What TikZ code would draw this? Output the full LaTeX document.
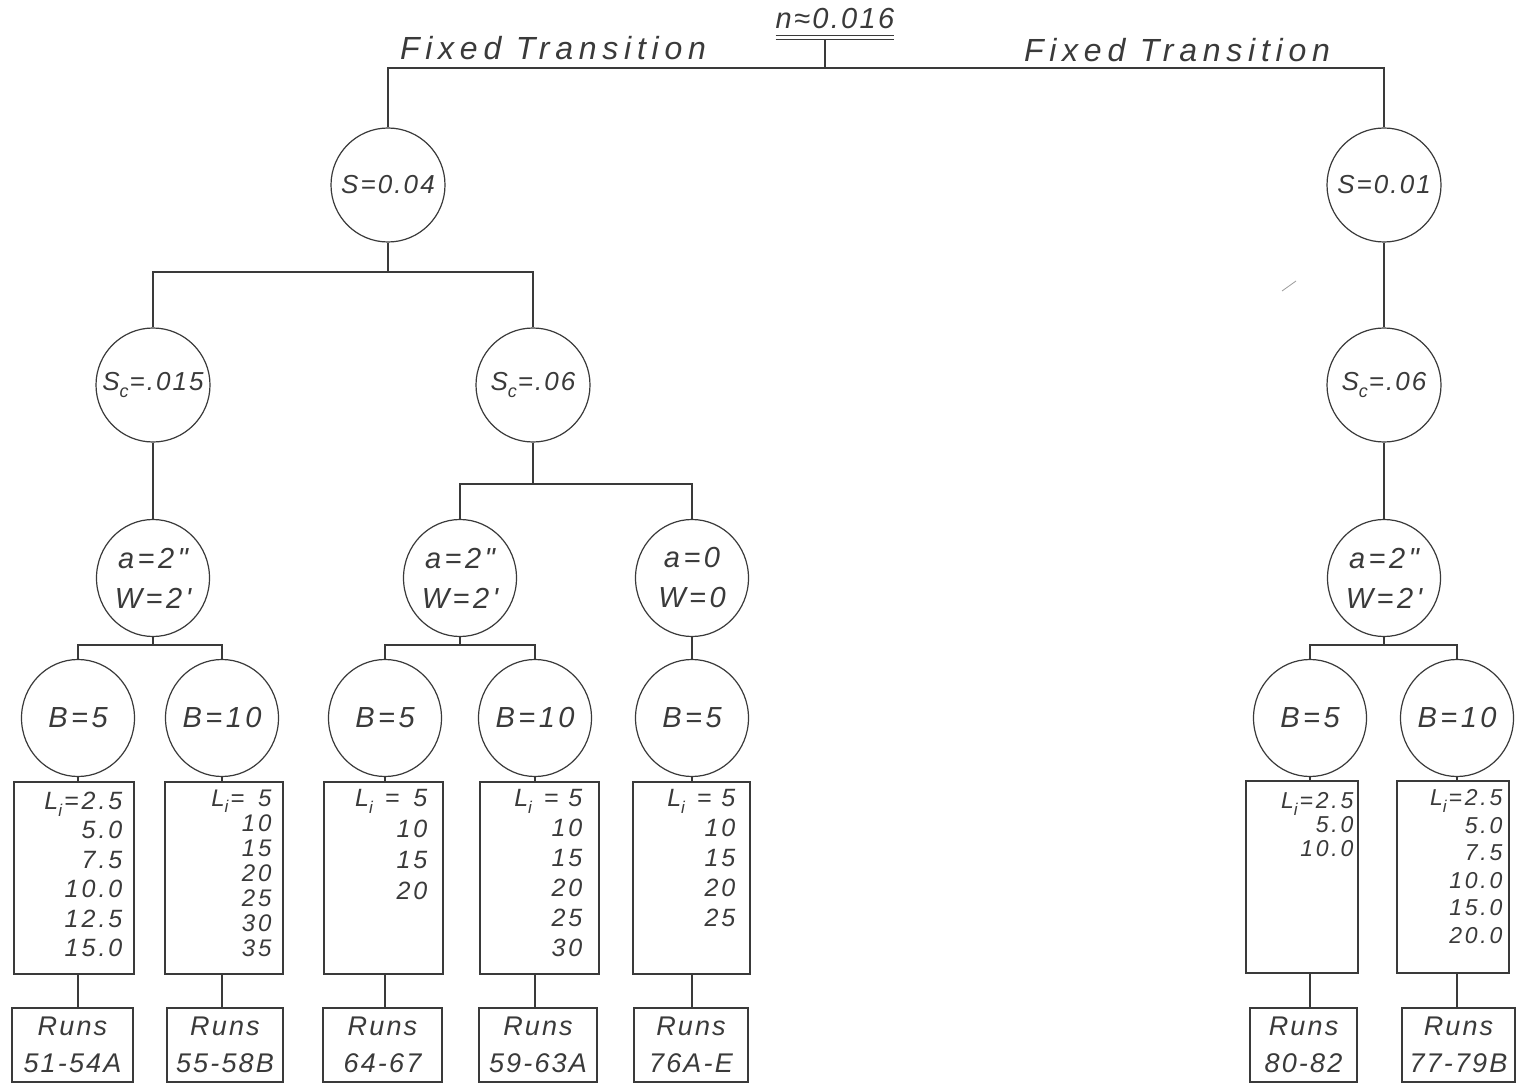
\documentclass[tikz,border=0pt]{standalone}
\usepackage{fontspec}
\setmainfont{Liberation Sans}
\newfontfamily\hand[LetterSpace=8]{Liberation Sans}
\newfontfamily\handwide[LetterSpace=18]{Liberation Sans}
\newfontfamily\handmid[LetterSpace=12]{Liberation Sans}
\usetikzlibrary{shapes.geometric}
\definecolor{ink}{HTML}{3A3A3A}
\newcommand\Sc{S\raisebox{-0.28em}{\fontsize{18}{18}\selectfont c}\kern1pt}
\newcommand\Li{L\raisebox{-0.28em}{\fontsize{17}{17}\selectfont i}\kern2pt}
\tikzset{
  conn/.style={draw=ink, line width=1.2pt},
  circnode/.style={circle, draw=ink, line width=1.2pt, minimum size=114pt, inner sep=0pt,
    text=ink, font=\hand\itshape\fontsize{26}{30}\selectfont, align=center},
  ovalnode/.style={ellipse, draw=ink, line width=1.2pt, minimum width=113pt, minimum height=117pt,
    inner sep=0pt, text=ink, font=\handmid\itshape\fontsize{29}{40}\selectfont, align=center},
  lbox/.style={rectangle, draw=ink, line width=1.2pt, minimum height=192pt, inner sep=0pt},
  ltext/.style={anchor=north east, inner sep=0pt, align=right, text=ink},
  runbox/.style={rectangle, draw=ink, line width=1.2pt, minimum height=74pt, inner sep=0pt,
    text=ink, align=center, font=\hand\itshape\fontsize{27}{37}\selectfont},
  title/.style={text=ink, inner sep=0pt, font=\handwide\itshape\fontsize{32}{34}\selectfont},
}
\begin{document}
\begin{tikzpicture}[x=1pt,y=-1pt]
\fill[white] (0,0) rectangle (1518,1086);
\useasboundingbox (0,0) rectangle (1518,1086);

% top
\node[text=ink, inner sep=0pt, font=\hand\itshape\fontsize{29}{32}\selectfont] (top) at (835,19) {n≈0.016};
\draw[conn] ([yshift=-6pt]top.south west) -- ([yshift=-6pt]top.south east);
\draw[conn] ([yshift=-10pt]top.south west) -- ([yshift=-10pt]top.south east);
\coordinate (j0) at (825,68);
\draw[conn] ([yshift=-10pt]top.south -| j0) -- (j0);
\node[title] (ftl) at (553,48) {Fixed Transition};
\node[title] (ftr) at (1177,50) {Fixed Transition};

% level S
\node[circnode] (s1) at (388,185) {S=0.04};
\node[circnode] (s2) at (1384,185) {S=0.01};
\draw[conn] (s1.north) -- (s1.north |- j0) -- (s2.north |- j0) -- (s2.north);

% level Sc
\node[circnode] (c1) at (153,385) {\Sc=.015};
\node[circnode] (c2) at (533,385) {\Sc=.06};
\node[circnode] (c3) at (1384,385) {\Sc=.06};
\coordinate (j1) at (388,272);
\draw[conn] (s1.south) -- (j1);
\draw[conn] (c1.north) |- (j1) -| (c2.north);
\draw[conn] (s2.south) -- (c3.north);

% level a, W
\node[ovalnode] (a1) at (153,578) {a=2"\\W=2'};
\node[ovalnode] (a2) at (460,578) {a=2"\\W=2'};
\node[ovalnode] (a3) at (692,578) {a=0\\W=0};
\node[ovalnode] (a4) at (1384,578) {a=2"\\W=2'};
\draw[conn] (c1.south) -- (a1.north);
\coordinate (j2) at (533,484);
\draw[conn] (c2.south) -- (j2);
\draw[conn] (a2.north) |- (j2) -| (a3.north);
\draw[conn] (c3.south) -- (a4.north);

% level B
\node[ovalnode] (b1) at (78,718) {B=5};
\node[ovalnode] (b2) at (222,718) {B=10};
\node[ovalnode] (b3) at (385,718) {B=5};
\node[ovalnode] (b4) at (535,718) {B=10};
\node[ovalnode] (b5) at (692,718) {B=5};
\node[ovalnode] (b6) at (1310,718) {B=5};
\node[ovalnode] (b7) at (1457,718) {B=10};
\coordinate (ja1) at (153,645);
\coordinate (ja2) at (460,645);
\coordinate (ja4) at (1384,645);
\draw[conn] (a1.south) -- (ja1);
\draw[conn] (b1.north) |- (ja1) -| (b2.north);
\draw[conn] (a2.south) -- (ja2);
\draw[conn] (b3.north) |- (ja2) -| (b4.north);
\draw[conn] (a3.south) -- (b5.north);
\draw[conn] (a4.south) -- (ja4);
\draw[conn] (b6.north) |- (ja4) -| (b7.north);

% L boxes
\node[lbox, minimum width=120pt] (l1) at (74,878) {};
\node[lbox, minimum width=118pt] (l2) at (224,878) {};
\node[lbox, minimum width=119pt] (l3) at (383.5,878) {};
\node[lbox, minimum width=119pt] (l4) at (539.5,878) {};
\node[lbox, minimum width=117pt] (l5) at (691.5,878) {};
\node[lbox, minimum width=112pt] (l6) at (1302,877) {};
\node[lbox, minimum width=112pt] (l7) at (1453,877) {};

\node[ltext, font=\handmid\itshape\fontsize{25}{29.5}\selectfont] (t1) at ([xshift=-12pt,yshift=-10pt]l1.north east)
  {\Li=2.5\\5.0\\7.5\\10.0\\12.5\\15.0};
\node[ltext, font=\handmid\itshape\fontsize{24}{25}\selectfont] (t2) at ([xshift=-12pt,yshift=-8pt]l2.north east)
  {\Li= \,5\\10\\15\\20\\25\\30\\35};
\node[ltext, font=\handmid\itshape\fontsize{25}{31}\selectfont] (t3) at ([xshift=-16pt,yshift=-8pt]l3.north east)
  {\Li\ = \,5\\10\\15\\20};
\node[ltext, font=\handmid\itshape\fontsize{25}{30}\selectfont] (t4) at ([xshift=-17pt,yshift=-8pt]l4.north east)
  {\Li\ = 5\\10\\15\\20\\25\\30};
\node[ltext, font=\handmid\itshape\fontsize{25}{30}\selectfont] (t5) at ([xshift=-15pt,yshift=-8pt]l5.north east)
  {\Li\ = 5\\10\\15\\20\\25};
\node[ltext, font=\handmid\itshape\fontsize{23}{24}\selectfont] (t6) at ([xshift=-5pt,yshift=-12pt]l6.north east)
  {\Li=2.5\\5.0\\10.0};
\node[ltext, font=\handmid\itshape\fontsize{23}{27.5}\selectfont] (t7) at ([xshift=-7pt,yshift=-9pt]l7.north east)
  {\Li=2.5\\5.0\\7.5\\10.0\\15.0\\20.0};

\foreach \i in {1,...,7}{
  \draw[conn] (b\i.south) -- (b\i.south |- l\i.north);
}

% Runs boxes
\node[runbox, minimum width=121pt] (r1) at (72.5,1045) {Runs\\51-54A};
\node[runbox, minimum width=116pt] (r2) at (225,1045) {Runs\\55-58B};
\node[runbox, minimum width=119pt] (r3) at (382.5,1045) {Runs\\64-67};
\node[runbox, minimum width=118pt] (r4) at (538,1045) {Runs\\59-63A};
\node[runbox, minimum width=114pt] (r5) at (691,1045) {Runs\\76A-E};
\node[runbox, minimum width=107pt] (r6) at (1303.5,1045) {Runs\\80-82};
\node[runbox, minimum width=113pt] (r7) at (1458.5,1045) {Runs\\77-79B};

\foreach \i in {1,...,7}{
  \draw[conn] (b\i.south |- l\i.south) -- (b\i.south |- r\i.north);
}

% stray pencil mark
\draw[ink!50, line width=0.8pt] (1282,291) -- (1296,281);
\end{tikzpicture}
\end{document}
